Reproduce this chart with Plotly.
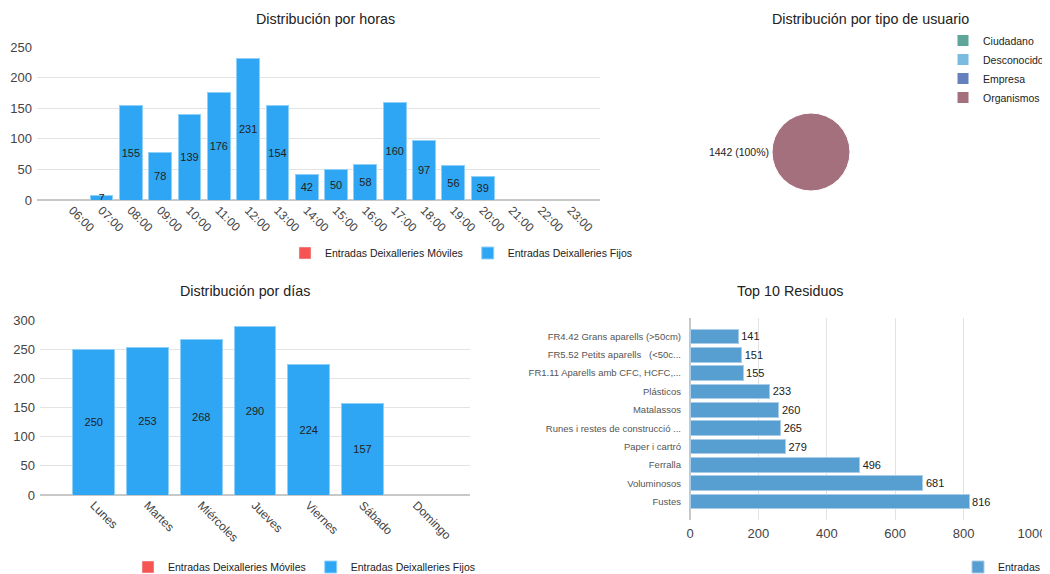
import plotly.graph_objects as go

# Distribución por horas
horas = ['06:00', '07:00', '08:00', '09:00', '10:00', '11:00', '12:00', '13:00', '14:00',
         '15:00', '16:00', '17:00', '18:00', '19:00', '20:00', '21:00', '22:00', '23:00']
horas_moviles = [0] * 18
horas_fijos = [0, 7, 155, 78, 139, 176, 231, 154, 42, 50, 58, 160, 97, 56, 39, 0, 0, 0]

# Distribución por días
dias = ['Lunes', 'Martes', 'Miércoles', 'Jueves', 'Viernes', 'Sábado', 'Domingo']
dias_moviles = [0] * 7
dias_fijos = [250, 253, 268, 290, 224, 157, 0]

# Distribución por tipo de usuario
usuarios = ['Ciudadano', 'Desconocido', 'Empresa', 'Organismos']
usuarios_valores = [0, 0, 0, 1442]
usuarios_colores = ['#5ea699', '#7bbbe0', '#6480bd', '#a4707e']

# Top 10 Residuos
residuos = ['FR4.42 Grans aparells (>50cm)', 'FR5.52 Petits aparells   (<50c...',
            'FR1.11 Aparells amb CFC, HCFC,...', 'Plásticos', 'Matalassos',
            'Runes i restes de construcció ...', 'Paper i cartró', 'Ferralla',
            'Voluminosos', 'Fustes']
residuos_valores = [141, 151, 155, 233, 260, 265, 279, 496, 681, 816]

ROJO = '#f55452'
AZUL = '#2ea6f4'
AZUL_RES = '#579fd1'
FUENTE = 'Liberation Sans, Arial, sans-serif'

# la página deja 8px de margen en el body: la figura ocupa el resto de la ventana
OX, OY = 8, 8
W, H = 1050 - OX, 574 - OY


def px(x0, x1):
    return [(x0 - OX) / W, (x1 - OX) / W]


def pyr(y_top, y_bottom):
    return [1 - (y_bottom - OY) / H, 1 - (y_top - OY) / H]


def xp(x):
    return (x - OX) / W


def yp(y):
    return 1 - (y - OY) / H


def texto(v):
    return [str(x) if x else '' for x in v]


total_usuarios = sum(usuarios_valores)
texto_usuarios = [f'{v} ({v / total_usuarios:.0%})' if v else '' for v in usuarios_valores]

fig = go.Figure()

# barras por horas
fig.add_trace(go.Bar(x=horas, y=horas_moviles, name='Entradas Deixalleries Móviles',
                     marker_color=ROJO, xaxis='x', yaxis='y', legend='legend'))
fig.add_trace(go.Bar(x=horas, y=horas_fijos, name='Entradas Deixalleries Fijos',
                     marker=dict(color=AZUL, line=dict(color='#8fd0fa', width=1)),
                     text=texto(horas_fijos), textposition='inside', insidetextanchor='middle',
                     constraintext='none', textangle=0,
                     textfont=dict(color='#222', size=11),
                     xaxis='x', yaxis='y', legend='legend'))

# barras por días
fig.add_trace(go.Bar(x=dias, y=dias_moviles, name='Entradas Deixalleries Móviles',
                     marker_color=ROJO, xaxis='x2', yaxis='y2', legend='legend2'))
fig.add_trace(go.Bar(x=dias, y=dias_fijos, name='Entradas Deixalleries Fijos',
                     marker=dict(color=AZUL, line=dict(color='#8fd0fa', width=1)),
                     text=texto(dias_fijos), textposition='inside', insidetextanchor='middle',
                     constraintext='none', textangle=0,
                     textfont=dict(color='#222', size=11),
                     xaxis='x2', yaxis='y2', legend='legend2'))

# top residuos
fig.add_trace(go.Bar(y=residuos, x=residuos_valores, orientation='h', name='Entradas',
                     marker=dict(color=AZUL_RES, line=dict(color='#a9cde8', width=1)),
                     text=residuos_valores, textposition='outside', cliponaxis=False,
                     textfont=dict(color='#222', size=11),
                     xaxis='x3', yaxis='y3', legend='legend4', width=0.8))

# tarta tipo de usuario
fig.add_trace(go.Pie(labels=usuarios, values=usuarios_valores, sort=False,
                     marker=dict(colors=usuarios_colores, line=dict(color='white', width=1)),
                     text=texto_usuarios, textinfo='text', textposition='outside',
                     outsidetextfont=dict(color='#222', size=10.5),
                     rotation=90, direction='clockwise',
                     domain=dict(x=px(772, 850), y=pyr(113, 191)),
                     legend='legend3'))

grid = '#e3e3e3'
tick_font = dict(family=FUENTE, size=13, color='#444')
leg_font = dict(family=FUENTE, size=10.5, color='#222')

fig.update_layout(
    width=W, height=H,
    margin=dict(l=0, r=0, t=0, b=0, autoexpand=False),
    paper_bgcolor='white', plot_bgcolor='white',
    font=dict(family=FUENTE, color='#222'),
    barmode='stack', bargap=0.22,
    xaxis=dict(domain=px(37, 600), range=[-1.2, 18.0], tickangle=45,
               tickfont=dict(family=FUENTE, size=12, color='#444'), showgrid=False,
               ticks='', anchor='y'),
    yaxis=dict(domain=pyr(47, 200), range=[0, 250], dtick=50, gridcolor=grid,
               tickfont=tick_font, zeroline=True, zerolinecolor='#c8c8c8',
               anchor='x', ticklabelstandoff=4),
    xaxis2=dict(domain=px(40, 470), range=[-1, 7], tickangle=45,
                tickfont=dict(family=FUENTE, size=12, color='#444'), showgrid=False,
                ticks='', anchor='y2'),
    yaxis2=dict(domain=pyr(320.5, 495), range=[0, 300], dtick=50, gridcolor=grid,
                tickfont=tick_font, zeroline=True, zerolinecolor='#c8c8c8',
                anchor='x2', ticklabelstandoff=4),
    xaxis3=dict(domain=px(690, 1032), range=[0, 1000], dtick=200, gridcolor=grid,
                tickfont=tick_font, zeroline=True, zerolinecolor='#c8c8c8',
                anchor='y3', ticklabelstandoff=4),
    yaxis3=dict(domain=pyr(318, 520), range=[10, -1], showgrid=False,
                tickfont=dict(family=FUENTE, size=9.5, color='#555'),
                ticks='', anchor='x3', ticklabelstandoff=8),
    legend=dict(orientation='h', x=xp(285), y=yp(253), xanchor='left', yanchor='middle',
                font=leg_font, traceorder='normal'),
    legend2=dict(orientation='h', x=xp(128), y=yp(567), xanchor='left', yanchor='middle',
                 font=leg_font, traceorder='normal'),
    legend3=dict(x=xp(943), y=yp(26), xanchor='left', yanchor='top',
                 font=leg_font, tracegroupgap=0),
    legend4=dict(orientation='h', x=xp(958), y=yp(567), xanchor='left', yanchor='middle',
                 font=leg_font),
    showlegend=True,
)

titulos = [
    ('Distribución por horas', 325, 19),
    ('Distribución por tipo de usuario', 870, 19),
    ('Distribución por días', 245, 291),
    ('Top 10 Residuos', 790, 291),
]
for t, x, y in titulos:
    fig.add_annotation(text=t, x=xp(x), y=yp(y), xref='paper', yref='paper',
                       showarrow=False, xanchor='center', yanchor='middle',
                       font=dict(family=FUENTE, size=14.3, color='#222'))

fig.write_html('out.html')
